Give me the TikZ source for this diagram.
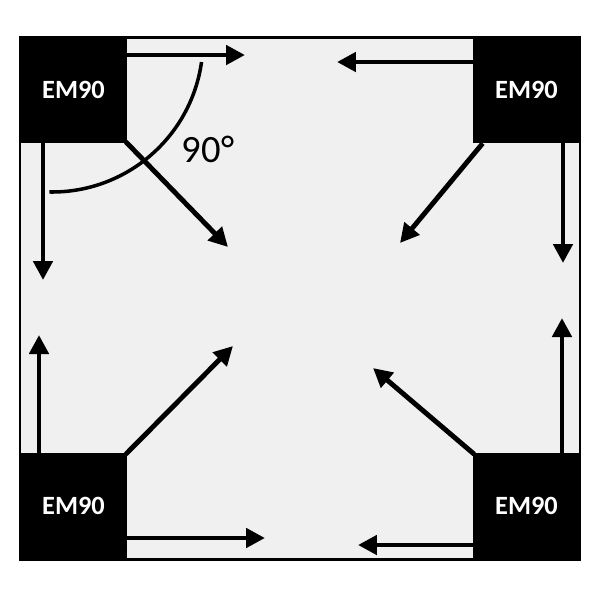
\documentclass[tikz,border=0pt]{standalone}
\usepackage{fontspec}
\setmainfont{Carlito}
\usetikzlibrary{arrows.meta}
\definecolor{panelgray}{rgb}{0.94, 0.94, 0.94}

\tikzset{
  em/.style={fill=black, text=white, font=\bfseries\fontsize{15}{18}\selectfont,
    inner sep=0pt, minimum width=2.14cm, minimum height=2.12cm},
  push/.style={line width=2.8pt, -{Triangle[width=0.38cm, length=0.38cm]}}
}

\begin{document}
\begin{tikzpicture}[x=0.02cm, y=-0.02cm]
			\useasboundingbox (0,0) rectangle (595,600);
			\draw [fill=panelgray, line width=1.7pt] (20,37) rectangle (580,559);
			% magnets
			\node [em] (tl) at (73.5,90) {EM90};
			\node [em] (tr) at (526.5,90) {EM90};
			\node [em] (bl) at (73.5,506) {EM90};
			\node [em] (br) at (526.5,506) {EM90};
			% arrow tips
			\coordinate (tlr) at (245,55);
			\coordinate (tld) at (43,280);
			\coordinate (tlc) at (228,247);
			\coordinate (trl) at (337,62);
			\coordinate (trd) at (563,263);
			\coordinate (trc) at (400,243);
			\coordinate (blu) at (39,335);
			\coordinate (blc) at (233,346);
			\coordinate (blr) at (265,538);
			\coordinate (bru) at (562,318);
			\coordinate (brc) at (373,368);
			\coordinate (brl) at (358,545);
			% forces
			\draw [push] (tl.east |- tlr) -- (tlr);
			\draw [push] (tl.south -| tld) -- (tld);
			\draw [push] ([xshift=-0.03cm, yshift=0.03cm]tl.south east) -- (tlc);
			\draw [push] (tr.west |- trl) -- (trl);
			\draw [push] (tr.south -| trd) -- (trd);
			\draw [push] ([xshift=0.2cm]tr.south west) -- (trc);
			\draw [push] (bl.north -| blu) -- (blu);
			\draw [push] ([xshift=-0.03cm, yshift=-0.03cm]bl.north east) -- (blc);
			\draw [push] (bl.east |- blr) -- (blr);
			\draw [push] (br.north -| bru) -- (bru);
			\draw [push] ([xshift=0.03cm, yshift=-0.03cm]br.north west) -- (brc);
			\draw [push] (br.west |- brl) -- (brl);
			% angle
			\draw [line width=2pt] (52,41) ++(8:151) arc [start angle=8, end angle=91, radius=151];
			\node [anchor=base, font=\fontsize{22}{26}\selectfont] (ang) at (208,162) {90°};
		\end{tikzpicture}
\end{document}
